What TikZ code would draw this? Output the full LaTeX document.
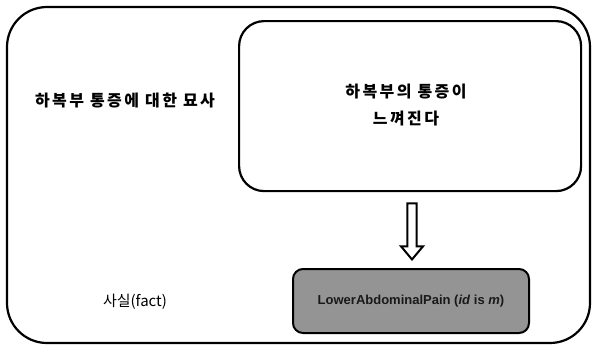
\documentclass[tikz,border=0pt]{standalone}
\usepackage{fontspec}
\setmainfont{Liberation Sans}
\newfontfamily\kr{Noto Sans CJK KR}
\newfontfamily\krw{Noto Sans CJK KR}[LetterSpace=15]
\usetikzlibrary{shapes.arrows}
\begin{document}
\begin{tikzpicture}[x=1pt,y=-1pt,
  boxline/.style={draw=black,line width=2.2pt},
  lbl/.style={font=\krw\bfseries\fontsize{16}{27}\selectfont,align=center}]
\useasboundingbox (0,0) rectangle (592,349);
\draw[boxline,rounded corners=40] (7,7) rectangle (590,343);
\node[boxline,rounded corners=25,minimum width=342,minimum height=170,anchor=north west] (inner) at (238,20) {};
\node[lbl] (ptxt) at (406,105) {하복부의 통증이\\느껴진다};
\node[lbl] (desc) at (125,101) {하복부 통증에 대한 묘사};
\node[draw=black,line width=2pt,rounded corners=10,fill=black!42,minimum width=236,minimum height=64,anchor=north west,font=\bfseries\fontsize{13}{15}\selectfont,text=black!90] (fact) at (292,268) {LowerAbdominalPain (\textit{id} is \textit{m})};
\node[font=\kr\fontsize{15}{18}\selectfont] (facttxt) at (135,302) {사실(fact)};
\node[single arrow,draw=black,line width=2pt,fill=white,shape border rotate=270,minimum width=22,single arrow head extend=6,single arrow tip angle=80,minimum height=56,inner sep=3.5pt,anchor=tip] (arr) at (412,261) {};
\end{tikzpicture}
\end{document}
